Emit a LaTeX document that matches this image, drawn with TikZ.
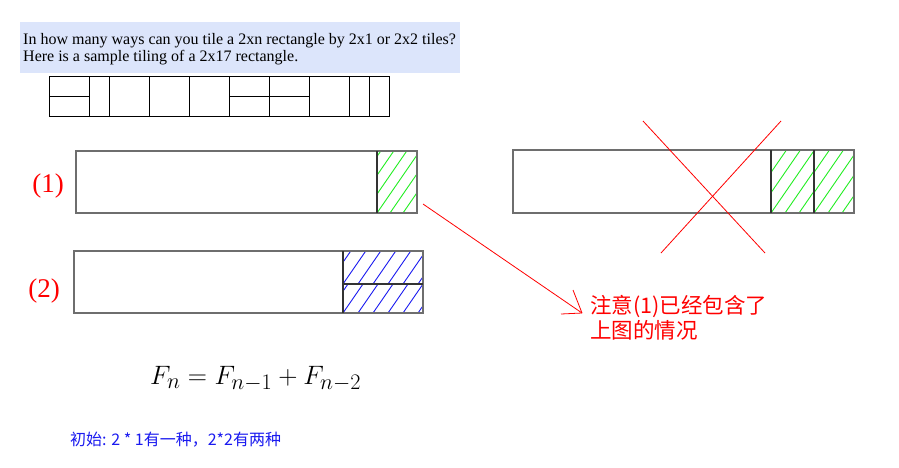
\documentclass[tikz,border=0pt]{standalone}
\usepackage{fontspec}
\setmainfont{Liberation Serif}
\newfontfamily\cjk{Noto Sans CJK SC}
\definecolor{qbox}{HTML}{DCE5FB}
\definecolor{rgray}{HTML}{6E6E6E}
\definecolor{hgreen}{HTML}{22EE22}
\definecolor{hblue}{HTML}{1A1AF0}
\tikzset{
  outline/.style={draw=rgray, line width=2pt},
  divider/.style={draw=black!80, line width=1.6pt},
  tile/.style={draw=black, line width=1pt},
  redline/.style={draw=red, line width=0.8pt},
  hatchg/.style={draw=hgreen, line width=0.9pt},
  hatchb/.style={draw=hblue, line width=0.9pt},
}
\newcommand{\myhatch}[6]{% x0 y0 x1 y1 spacing style
  \begin{scope}
    \clip (#1,#2) rectangle (#3,#4);
    \foreach \k in {-6,...,10}{
      \draw[#6] ({#1+\k*#5},#4) -- ++({(#4-#2)/1.45},{-(#4-#2)});
    }
  \end{scope}}
\begin{document}
\begin{tikzpicture}[x=1pt,y=-1pt]
\useasboundingbox (0,0) rectangle (899,467);
\fill[white] (0,0) rectangle (899,467);
% question box
\fill[qbox] (20,22) rectangle (460,73);
\node[anchor=base west, inner sep=0, font=\fontsize{16}{18}\selectfont] (q1) at (23,44) {In how many ways can you tile a 2xn rectangle by 2x1 or 2x2 tiles?};
\node[anchor=base west, inner sep=0, font=\fontsize{16}{18}\selectfont] (q2) at (23,61) {Here is a sample tiling of a 2x17 rectangle.};
% sample tiling
\draw[tile] (49.3,76.3) rectangle (389.3,116.3);
\foreach \xx in {89.3,109.3,149.3,189.3,229.3,269.3,309.3,349.3,369.3}{
  \draw[tile] (\xx,76.3) -- (\xx,116.3);
}
\draw[tile] (49.3,96.3) -- (89.3,96.3);
\draw[tile] (229.3,96.3) -- (309.3,96.3);
% (1)
\myhatch{377}{151}{417}{213}{13}{hatchg}
\draw[outline] (76,151) rectangle (417,213);
\draw[divider] (377,151) -- (377,213);
\node[anchor=base, inner sep=0, text=red, font=\fontsize{27}{30}\selectfont] (l1) at (48,192) {(1)};
% (2)
\myhatch{343}{251}{423}{284}{15}{hatchb}
\myhatch{343}{284}{423}{313}{15}{hatchb}
\draw[outline] (74,251) rectangle (423,313);
\draw[divider] (343,251) -- (343,313);
\draw[divider] (343,284) -- (423,284);
\node[anchor=base, inner sep=0, text=red, font=\fontsize{27}{30}\selectfont] (l2) at (44,297) {(2)};
% right rectangle
\myhatch{771}{150}{814}{213}{14}{hatchg}
\myhatch{814}{150}{854}{213}{14}{hatchg}
\draw[outline] (513,150) rectangle (854,213);
\draw[divider] (771,150) -- (771,213);
\draw[divider] (814,150) -- (814,213);
% red cross
\coordinate (xa) at (643,121);
\coordinate (xb) at (765,253);
\coordinate (xc) at (781,121);
\coordinate (xd) at (661,253);
\draw[redline] (xa) -- (xb);
\draw[redline] (xc) -- (xd);
% red arrow
\coordinate (as) at (423,204);
\coordinate (ae) at (582,313);
\coordinate (h1) at (573,290);
\coordinate (h2) at (561,314);
\draw[redline] (as) -- (ae);
\draw[redline] (h1) -- (ae);
\draw[redline] (h2) -- (ae);
\node[anchor=base west, inner sep=0, text=red, font=\cjk\fontsize{21.5}{24}\selectfont] (note1) at (590,313) {注意(1)已经包含了};
\node[anchor=base west, inner sep=0, text=red, font=\cjk\fontsize{21.5}{24}\selectfont] (note2) at (590,338) {上图的情况};
% formula
\node[anchor=base west, inner sep=0, scale=1.07, font=\fontsize{24.88}{28}\selectfont] (f) at (150,384) {$F_n = F_{n-1} + F_{n-2}$};
% init text
\node[anchor=base west, inner sep=0, text=hblue, font=\cjk\fontsize{16}{18}\selectfont] (init) at (70,445) {初始: 2 * 1有一种，2*2有两种};
\end{tikzpicture}
\end{document}
